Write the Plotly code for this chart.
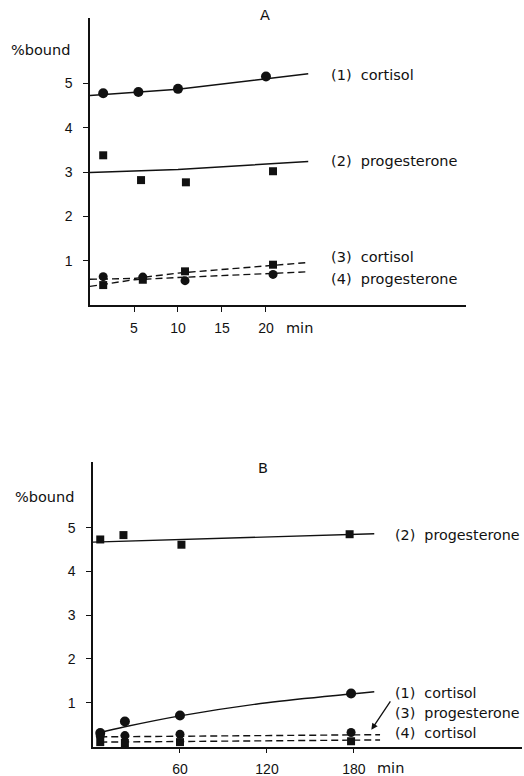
import plotly.graph_objects as go

# ---------------- Panel A data (time in min, % bound) ----------------
a_time = [1.5, 5.5, 10, 20]
a_cortisol1 = [4.78, 4.81, 4.88, 5.16]
a_prog2_time = [1.5, 5.8, 10.9, 20.8]
a_prog2 = [3.38, 2.82, 2.77, 3.02]
a_low_time = [1.5, 6, 10.8, 20.8]
a_cortisol3 = [0.45, 0.57, 0.76, 0.91]
a_prog4 = [0.64, 0.63, 0.55, 0.69]

a_fit1_x = [0, 10, 24.8]
a_fit1_y = [4.73, 4.87, 5.22]
a_fit2_x = [0, 10, 24.8]
a_fit2_y = [2.99, 3.06, 3.24]
a_fit3_x = [0, 5, 10, 24.8]
a_fit3_y = [0.58, 0.6, 0.72, 0.96]
a_fit4_x = [0, 5, 10, 24.8]
a_fit4_y = [0.42, 0.57, 0.62, 0.75]

a_xticks = [5, 10, 15, 20]
a_yticks = [1, 2, 3, 4, 5]

# ---------------- Panel B data ----------------
b_time = [5, 22, 60, 178]
b_prog2_time = [5, 21, 61, 177]
b_prog2 = [4.73, 4.83, 4.61, 4.85]
b_cortisol1 = [0.31, 0.57, 0.71, 1.21]
b_prog3 = [0.24, 0.25, 0.28, 0.32]
b_cortisol4 = [0.1, 0.08, 0.1, 0.12]

b_fit2_x = [0, 194]
b_fit2_y = [4.67, 4.86]
b_fit1_x = [5, 22, 60, 120, 178, 194]
b_fit1_y = [0.32, 0.45, 0.7, 1.0, 1.2, 1.25]
b_fit3_x = [5, 198]
b_fit3_y = [0.22, 0.27]
b_fit4_x = [5, 198]
b_fit4_y = [0.10, 0.15]

b_xticks = [60, 120, 180]
b_yticks = [1, 2, 3, 4, 5]

FONT = "DejaVu Sans"
TICKFONT = "Liberation Sans"
BLACK = "#111111"

fig = go.Figure()

def line(x, y, xa, ya, dash="solid", shape="linear"):
    fig.add_trace(go.Scatter(x=x, y=y, mode="lines", xaxis=xa, yaxis=ya,
                             line=dict(color=BLACK, width=1.4, dash=dash, shape=shape),
                             showlegend=False, hoverinfo="skip", cliponaxis=False))

def pts(x, y, xa, ya, symbol, size):
    fig.add_trace(go.Scatter(x=x, y=y, mode="markers", xaxis=xa, yaxis=ya,
                             marker=dict(symbol=symbol, size=size, color=BLACK),
                             showlegend=False, cliponaxis=False))

DASH = "7px,4px"
# Panel A
line(a_fit1_x, a_fit1_y, "x", "y")
line(a_fit2_x, a_fit2_y, "x", "y")
line(a_fit3_x, a_fit3_y, "x", "y", DASH)
line(a_fit4_x, a_fit4_y, "x", "y", DASH)
pts(a_time, a_cortisol1, "x", "y", "circle", 10)
pts(a_prog2_time, a_prog2, "x", "y", "square", 8)
pts(a_low_time, a_cortisol3, "x", "y", "square", 8)
pts(a_low_time, a_prog4, "x", "y", "circle", 9)

# Panel B
line(b_fit2_x, b_fit2_y, "x2", "y2")
line(b_fit1_x, b_fit1_y, "x2", "y2", shape="spline")
line(b_fit3_x, b_fit3_y, "x2", "y2", DASH)
line(b_fit4_x, b_fit4_y, "x2", "y2", DASH)
pts(b_prog2_time, b_prog2, "x2", "y2", "square", 8)
pts(b_time, b_cortisol1, "x2", "y2", "circle", 10)
pts(b_time, b_prog3, "x2", "y2", "circle", 9)
pts(b_time, b_cortisol4, "x2", "y2", "square", 8)

axis_common = dict(showline=True, linecolor=BLACK, linewidth=1.5, showgrid=False,
                   zeroline=False, ticks="outside", ticklen=5, tickwidth=1.3,
                   tickcolor=BLACK, tickfont=dict(family=TICKFONT, size=14, color=BLACK))

fig.update_layout(
    width=524, height=776,
    margin=dict(l=0, r=0, t=0, b=0),
    paper_bgcolor="white", plot_bgcolor="white",
    xaxis=dict(domain=[90/524, 466/524], range=[0, 42.73], anchor="y",
               tickvals=a_xticks, ticktext=[str(v) for v in a_xticks],
               ticklabelstandoff=4, **axis_common),
    yaxis=dict(domain=[1-305/776, 1-18/776], range=[0, 6.48], anchor="x",
               tickvals=a_yticks, ticktext=[str(v) for v in a_yticks],
               ticklabelstandoff=8, **axis_common),
    xaxis2=dict(domain=[93/524, 522/524], range=[0, 295.9], anchor="y2",
                tickvals=b_xticks, ticktext=[str(v) for v in b_xticks],
                ticklabelstandoff=4, **axis_common),
    yaxis2=dict(domain=[1-746.5/776, 1-462/776], range=[0, 6.5], anchor="x2",
                tickvals=b_yticks, ticktext=[str(v) for v in b_yticks],
                ticklabelstandoff=8, **axis_common),
)

def label(text, x, y, xr, yr, anchor="left", size=14.5, bold=False):
    t = f"<b>{text}</b>" if bold else text
    fig.add_annotation(text=t, x=x, y=y, xref=xr, yref=yr, showarrow=False,
                       xanchor=anchor, yanchor="middle", borderpad=0,
                       font=dict(family=FONT, size=size, color=BLACK))

# Panel A texts (outside the plotting area -> paper coordinates)
label("A", 265/524, 1-15/776, "paper", "paper", "center")
label("%bound", 40/524, 1-50/776, "paper", "paper", "center")
label("min", 299/524, 1-328/776, "paper", "paper", "center")
label("(1)&nbsp;&nbsp;cortisol", 27.3, 5.19, "x", "y")
label("(2)&nbsp;&nbsp;progesterone", 27.3, 3.25, "x", "y")
label("(3)&nbsp;&nbsp;cortisol", 27.3, 1.08, "x", "y")
label("(4)&nbsp;&nbsp;progesterone", 27.3, 0.59, "x", "y")

# Panel B texts
label("B", 263/524, 1-468/776, "paper", "paper", "center")
label("%bound", 44/524, 1-497/776, "paper", "paper", "center")
label("min", 390/524, 1-768/776, "paper", "paper", "center")
label("(2)&nbsp;&nbsp;progesterone", 207.5, 4.84, "x2", "y2", size=14.3)
label("(1)&nbsp;&nbsp;cortisol", 207.5, 1.22, "x2", "y2", size=14.3)
label("(3)&nbsp;&nbsp;progesterone", 207.5, 0.755, "x2", "y2", size=14.3)
label("(4)&nbsp;&nbsp;cortisol", 207.5, 0.30, "x2", "y2", size=14.3)

# arrow pointing from label (3) to end of dashed lines
fig.add_annotation(x=192, y=0.38, xref="x2", yref="y2", showarrow=True,
                   ax=20, ay=-30, arrowhead=2, arrowsize=1, arrowwidth=1.3,
                   arrowcolor=BLACK, text="")

fig.write_html("out.html", config={"displayModeBar": False},
               post_script="document.body.style.margin='0';document.body.style.overflow='hidden';")
